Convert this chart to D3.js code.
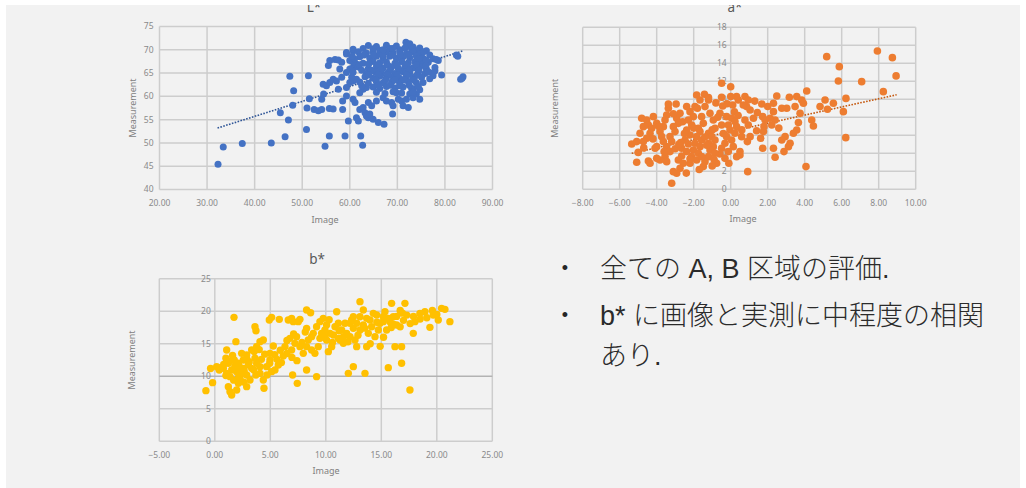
<!DOCTYPE html>
<html>
<head>
<meta charset="utf-8">
<script src="https://cdn.jsdelivr.net/npm/d3@7"></script>
<style>
  html, body { margin: 0; padding: 0; background: #ffffff; }
  svg { display: block; }
</style>
</head>
<body>
<svg id="slide" width="1026" height="488"></svg>
<script>
// ---- L* : image vs measurement ----
const lTicksX = [20, 30, 40, 50, 60, 70, 80, 90];
const lTicksY = [40, 45, 50, 55, 60, 65, 70, 75];
const lTrend = [[32.2, 53.2], [83.9, 69.8]];
const lPoints = [
  [32.3,45.4],[33.4,49.1],[37.4,49.9],[43.5,50.0],[45.4,56.5],[46.4,51.3],[47.1,54.9],[47.4,64.3],[48.0,58.1],[48.2,61.2],
  [50.9,52.9],[51.3,64.4],[51.5,59.5],[51.0,57.5],[52.5,57.2],[53.4,56.9],[54.1,57.2],[54.8,49.3],[55.7,51.5],[55.7,57.4],
  [56.5,57.3],[54.1,59.4],[54.5,60.5],[54.4,62.6],[55.1,62.3],[55.8,63.0],[56.5,63.7],[57.2,63.3],[55.5,66.6],[55.8,67.7],
  [56.9,67.9],[57.6,67.8],[58.3,67.3],[57.9,65.9],[58.3,64.1],[57.6,61.5],[58.5,59.0],[58.5,57.2],[59.0,51.5],[59.7,54.7],
  [59.3,60.1],[59.3,61.9],[60.0,63.0],[60.7,63.3],[60.4,64.1],[61.4,63.7],[59.3,69.1],[60.0,67.7],[60.7,69.8],[60.7,66.2],
  [61.4,66.9],[60.0,65.9],[59.3,65.1],[60.7,59.4],[61.1,58.7],[61.4,55.4],[61.8,54.7],[62.3,51.5],[62.7,49.5],[62.1,57.2],
  [62.8,57.6],[63.2,56.5],[63.5,55.8],[63.9,55.4],[64.2,56.2],[62.8,61.5],[63.5,61.9],[62.5,62.3],[62.1,60.8],[63.9,58.7],
  [64.6,58.0],[64.9,55.1],[66.0,54.4],[67.2,54.0],[65.6,59.0],[67.0,59.7],[67.7,59.0],[68.8,58.7],[69.1,58.0],[69.0,56.2],
  [70.2,59.4],[70.9,59.0],[69.8,60.8],[71.2,58.0],[72.3,57.6],[71.9,59.4],[72.6,60.5],[73.3,59.7],[74.0,60.5],[74.7,59.4],
  [73.3,61.6],[74.7,61.4],[82.4,68.9],[82.7,68.6],[83.3,63.7],[83.8,64.2],[83.6,63.9],[79.3,64.6],[77.9,65.5],[78.6,67.7],
  [77.5,64.4],[71.8,71.6],[72.6,71.3],
  [63.9,70.9],[65.6,70.7],[67.7,71.0],[69.8,70.8],[72.3,70.9],[73.3,70.6],[74.7,70.4],
  [60.7,70.1],[62.8,70.3],[64.9,70.2],[66.3,69.9],[68.4,70.3],[70.5,70.0],[71.6,70.4],[73.0,70.1],[74.4,69.9],[76.1,69.8],
  [59.3,69.4],[61.8,69.6],[63.5,69.3],[64.9,69.6],[66.3,69.2],[67.7,69.5],[69.1,69.3],[70.5,69.6],[71.9,69.2],[73.3,69.5],
  [74.7,69.1],[76.8,68.9],
  [62.1,68.5],[64.2,68.2],[65.6,68.6],[67.0,68.3],[68.4,68.6],[69.8,68.2],[71.2,68.5],[72.6,68.3],[74.0,68.6],[75.4,68.2],[77.5,68.1],
  [60.7,67.4],[62.8,67.1],[64.9,67.5],[66.3,67.2],[67.7,67.4],[69.5,67.1],[70.9,67.5],[72.3,67.2],[73.7,67.4],[75.1,67.0],
  [76.5,67.3],[78.2,67.9],
  [61.8,66.3],[63.9,66.0],[65.6,66.4],[67.0,66.1],[68.8,66.3],[70.2,66.0],[71.6,66.4],[73.3,66.1],[74.7,66.3],[76.1,65.9],[77.9,66.2],
  [60.7,65.2],[63.5,64.9],[65.3,65.3],[66.7,65.0],[68.1,65.2],[69.5,64.9],[71.2,65.3],[72.6,65.0],[74.4,65.2],[75.8,64.9],[77.5,65.0],
  [63.2,64.2],[64.9,63.9],[66.3,64.3],[67.7,64.0],[69.1,64.2],[70.5,63.9],[71.9,64.3],[73.3,64.0],[75.1,64.1],[76.8,63.8],
  [62.1,63.1],[63.9,62.8],[65.6,63.2],[67.0,62.9],[68.8,63.1],[70.5,62.8],[72.3,63.2],[74.0,62.9],[75.4,63.0],
  [64.9,62.0],[66.3,61.7],[67.7,62.1],[69.5,61.8],[71.2,62.0],[73.0,61.7],[74.4,62.1],
  [65.6,60.9],[67.4,60.6],[69.1,61.0],[70.9,60.7],[73.3,60.9],
  [61.0,68.0],[63.0,68.9],[65.0,68.9],[66.9,68.9],[68.8,68.9],[70.6,68.9],[72.4,68.9],[74.5,68.0],[76.0,67.8],[62.0,66.8],
  [64.0,67.0],[66.0,66.8],[68.0,66.7],[70.0,66.8],[72.0,66.7],[74.0,66.8],[76.0,66.6],[62.5,65.6],[64.5,65.6],[66.5,65.7],
  [68.5,65.6],[70.5,65.6],[72.5,65.6],[74.5,65.6],[76.5,65.3],[64.0,64.6],[66.0,64.7],[68.0,64.6],[70.0,64.6],[72.0,64.6],
  [74.0,64.5],[65.5,63.5],[67.5,63.5],[69.5,63.5],[71.5,63.5],[73.5,63.5],[66.0,62.4],[68.5,62.4],[70.5,62.3],[72.5,62.4],
  [69.0,70.3],[67.0,70.0],[75.5,69.6],[60.5,68.6]
];

// ---- a* : image vs measurement ----
const aTicksX = [-8, -6, -4, -2, 0, 2, 4, 6, 8, 10];
const aTicksY = [0, 2, 4, 6, 8, 10, 12, 14, 16, 18];
const aTrend = [[-5.35, 4.0], [8.97, 10.5]];
const aPoints = [
  [5.19,14.74],[5.87,13.63],[5.82,12.04],[7.93,15.37],[8.74,14.63],[8.94,12.6],[7.08,11.96],[8.25,10.85],[6.23,10.1],[6.09,8.63],
  [6.22,5.74],[4.11,10.93],[5.1,9.93],[5.23,8.89],[4.83,9.19],[5.55,9.56],[4.38,7.7],[4.47,7.04],[4.07,2.52],[3.66,7.41],
  [3.75,8.44],[3.57,10.3],[3.84,9.93],[3.93,9.56],[3.48,9.19],[3.57,6.59],[3.39,6.22],[3.17,10.22],[3.03,9.0],[2.76,9.0],
  [3.21,5.11],[3.12,4.74],[2.88,4.19],[2.94,5.85],[2.76,5.48],[2.49,10.37],[2.31,9.56],[2.31,8.63],[2.4,7.7],[2.22,7.15],
  [2.31,4.56],[2.4,3.56],[1.68,9.48],[1.73,8.07],[1.8,6.96],[1.77,6.41],[1.62,5.67],[1.73,4.56],[2.13,7.89],[1.86,7.7],
  [1.44,8.52],[1.23,7.89],[1.05,8.81],[0.86,9.19],[0.77,10.3],[0.95,9.93],[0.68,9.37],[0.41,9.93],[0.32,10.3],[0.11,9.37],
  [0.77,7.7],[0.95,7.15],[1.05,5.85],[0.9,5.3],[0.59,5.85],[0.5,4.19],[0.5,3.81],[0.92,1.96],
  [0.0,11.4],[-0.49,11.78],[-0.49,10.22],[-0.43,9.26],[-0.58,8.44],[-0.22,8.07],[0.05,7.89],[0.23,7.52],[-0.13,7.15],[0.32,6.96],
  [-0.04,6.59],[0.23,6.22],[-0.22,5.85],[0.05,5.48],[-0.31,5.11],[0.14,4.74],[-0.49,4.56],[-0.13,4.19],[-0.58,3.93],[0.32,3.63],
  [-0.31,3.44],[-0.76,2.89],[-0.49,7.15],[-0.94,7.7],[-0.85,6.78],[-1.2,6.22],[-1.03,5.85],[-0.85,5.48],[-1.2,5.11],[-0.94,4.74],
  [-1.12,4.37],[-0.85,4.0],[-1.2,3.63],[-1.39,3.07],[-1.48,2.52],[-1.12,8.44],[-1.39,9.19],[-1.2,9.93],
  [-1.57,8.07],[-1.48,7.33],[-1.75,6.78],[-1.66,6.41],[-1.84,5.85],[-1.57,5.48],[-1.93,5.11],[-1.66,4.74],[-2.02,4.37],[-1.75,4.0],
  [-2.11,3.63],[-1.84,3.26],[-1.57,3.63],[-2.2,2.89],[-1.42,10.56],[-1.66,9.93],[-1.93,9.19],[-2.2,8.63],[-2.02,8.07],[-2.29,7.7],
  [-2.11,7.15],[-2.38,6.59],[-2.2,6.04],[-2.47,5.48],[-2.29,5.04],[-2.65,4.56],[-2.38,4.19],[-2.65,3.7],[-2.83,3.26],[-2.56,2.89],
  [-2.74,2.33],[-2.92,1.78],[-3.1,1.96],[-2.38,9.19],[-2.74,8.44],[-2.92,7.89],[-2.83,7.33],[-3.1,6.96],[-3.01,6.41],[-3.28,5.85],
  [-3.19,5.3],[-3.46,4.74],[-3.28,4.19],[-3.55,3.63],[-3.46,3.07],[-3.19,0.67],[-3.37,9.0],[-3.46,8.26],[-3.55,7.7],[-3.64,6.96],
  [-3.82,6.41],[-3.73,5.85],[-3.64,5.3],[-4.0,4.74],[-3.37,9.48],[-3.82,3.26],[-4.0,3.44],[-4.45,3.15],[-4.36,2.89],[-5.08,3.0],
  [-5.35,5.04],[-5.08,5.3],[-4.9,6.22],[-4.72,6.96],[-4.81,7.89],[-4.54,7.7],[-4.45,7.15],[-4.27,6.78],[-4.36,6.22],[-4.09,4.56],
  [-4.54,5.67],[-4.72,5.3],[-4.18,8.07],[-4.0,7.33],[-2.95,9.48],[-1.84,10.48],[-1.2,10.2],
  [-3.0,4.5],[-2.7,5.2],[-2.5,6.2],[-2.0,6.8],[-1.4,5.8],[-1.0,6.6],[-0.7,8.0],[-0.2,9.5],[0.2,8.6],[-1.8,9.0],
  [-2.6,7.5],[-3.1,8.4],[-2.2,3.4],[-1.0,2.6],[-0.4,6.2],[0.6,6.6],[0.4,8.2],[-1.3,4.9],[-2.8,5.0],[-3.6,4.2],
  [-4.2,5.6],[-4.7,4.6],[-5.0,4.1],[-3.9,7.0],[-1.7,2.2],[-2.4,1.8],[1.4,6.5],[1.3,9.8],[2.0,9.2],[2.6,6.8],
  [0.0,10.3],[-0.8,9.6],[-0.1,2.9],[-0.9,3.3]
];

// ---- b* : image vs measurement ----
const bTicksX = [-5, 0, 5, 10, 15, 20, 25];
const bTicksY = [0, 5, 10, 15, 20, 25];
const bPoints = [
  [-0.8,7.79],[-0.2,9.02],[-0.38,11.2],[0.17,11.48],[0.4,10.96],[1.73,19.06],[1.9,15.32],[1.07,14.04],[1.0,12.76],[1.22,11.99],
  [0.77,11.22],[1.07,10.45],[1.52,10.96],[1.81,11.58],[1.37,9.94],[1.22,8.4],[1.37,7.63],[1.52,7.12],[1.97,7.89],[2.12,8.91],
  [2.27,9.68],[2.42,10.45],[1.97,10.71],[2.57,11.22],[2.12,11.99],[2.57,12.5],[2.42,13.52],[2.87,13.27],[3.32,14.04],[3.02,11.73],
  [3.32,11.22],[2.87,10.2],[3.17,9.43],[2.87,8.4],[3.62,12.76],[3.77,11.99],[4.07,11.48],[3.62,17.62],[3.71,17.0],[3.77,14.55],
  [4.07,15.32],[4.37,15.57],[4.07,10.45],[4.37,9.43],[4.43,8.15],[4.67,11.48],[4.97,12.5],[5.12,10.71],[5.27,14.65],[4.97,13.52],
  [4.91,18.65],[5.12,19.06],[5.42,10.96],[5.72,11.73],[5.81,18.75],[6.17,13.11],[6.32,14.55],[6.77,15.83],[6.62,18.65],[6.92,18.9],
  [7.07,18.4],[7.52,18.4],[7.67,18.75],[7.01,10.2],[7.43,8.91],[6.92,14.04],[7.22,15.06],[7.37,16.09],[7.67,14.55],[7.97,13.52],
  [8.27,14.55],[8.27,10.96],[8.27,20.18],[8.63,19.77],[8.42,15.57],[8.72,14.04],[8.87,16.6],[9.02,13.52],[9.17,9.94],[9.32,14.55],
  [9.47,15.83],[9.47,18.4],[9.77,18.9],[9.92,17.11],[10.07,15.57],[10.23,13.78],[10.53,14.55],[10.68,16.34],[10.98,19.93],[11.13,18.14],
  [11.28,15.57],[11.58,15.06],[11.88,16.6],[12.18,18.14],[12.33,18.65],[12.48,17.37],[12.03,10.45],[12.48,11.48],[12.63,15.57],[12.78,14.55],
  [13.08,19.16],[13.08,21.47],[13.38,20.18],[13.53,10.45],[13.68,14.55],[13.83,16.6],[13.98,18.65],[14.28,19.67],[14.43,16.09],[14.88,18.14],
  [15.18,19.16],[15.48,17.11],[15.63,11.32],[15.78,18.4],[15.93,21.21],[16.08,19.16],[16.23,14.55],[16.38,17.88],[16.83,11.99],[16.83,14.55],
  [17.13,21.21],[17.58,7.89],[17.88,16.6],[18.03,18.4],[18.48,19.67],[18.93,19.93],[19.38,17.52],[19.68,19.42],[20.13,18.65],[20.43,20.44],
  [20.73,20.29],[21.18,18.4],
  [8.27,17.37],[8.72,16.09],[9.17,17.62],[9.62,16.6],[10.07,17.88],[10.38,16.6],[10.83,17.62],[11.13,15.83],[11.43,17.11],[11.73,18.14],
  [12.18,16.09],[12.48,19.16],[12.78,18.14],[13.08,17.11],[13.38,17.88],[13.68,18.9],[14.13,17.62],[14.58,19.42],[14.73,17.11],[15.18,18.4],
  [15.33,19.93],[15.63,18.9],[16.08,18.0],[16.38,19.2],[16.7,17.6],[17.0,18.6],[17.3,19.4],[17.6,18.1],[16.7,20.1],[16.9,19.7],
  [0.35,11.3],[0.8,11.8],[1.3,12.3],[1.75,12.5],[2.2,11.5],[2.65,10.8],[3.1,12.2],[1.7,9.4],[2.15,9.9],[2.6,9.1],
  [3.55,13.8],[4.0,14.1],[4.5,13.4],[4.95,12.0],[3.7,10.2],[4.7,10.2],[5.6,12.6],[5.9,14.0],[6.5,13.5],[6.95,12.9],
  [7.4,12.4],[6.5,15.5],[7.1,16.5],[7.85,15.2],[8.15,16.8],[14.0,15.0],[15.2,16.0],[14.9,14.6],[18.5,18.8],[19.1,19.0],
  [9.9,16.2],[10.6,15.2],[11.6,16.1],[12.9,16.3],[13.5,17.4],[14.6,18.3],[15.9,17.5],[10.3,18.7],[11.2,17.0],[12.0,15.3],
  [17.9,19.2],[19.6,20.1],[20.0,19.5],[1.6,13.2],[2.9,12.6],[3.5,11.0],[4.2,12.6],[5.4,13.3],[6.0,12.1],[1.0,10.1]
];

// ---- bullet text ----
const bullets = [
  ["全ての A, B 区域の評価."],
  ["b* に画像と実測に中程度の相関", "あり."]
];

const svg = d3.select("#slide");
const tickFont = "'Noto Sans', 'Liberation Sans', sans-serif";

// slide panel
svg.append("rect").attr("x", 6).attr("y", 5).attr("width", 1014).attr("height", 483).attr("fill", "#f2f2f2");

function scatter(o) {
  const g = svg.append("g");
  const x = d3.scaleLinear().domain(o.xDomain).range([o.left, o.right]);
  const y = d3.scaleLinear().domain(o.yDomain).range([o.bottom, o.top]);

  // gridlines
  g.append("g").selectAll("line").data(o.ticksX).join("line")
    .attr("x1", d => x(d)).attr("x2", d => x(d))
    .attr("y1", o.top).attr("y2", o.bottom)
    .attr("stroke", "#cdcdcd").attr("stroke-width", 1.5);
  g.append("g").selectAll("line").data(o.ticksY).join("line")
    .attr("y1", d => y(d)).attr("y2", d => y(d))
    .attr("x1", o.left).attr("x2", o.right)
    .attr("stroke", d => (o.darkY === d ? "#b3b3b3" : "#cdcdcd")).attr("stroke-width", 1.5);

  // tick labels
  const ylx = o.yAxisAt == null ? o.left - 6 : x(o.yAxisAt) - 4;
  g.append("g").selectAll("text").data(o.ticksY).join("text")
    .attr("x", ylx).attr("y", d => y(d)).attr("dy", "0.35em")
    .attr("text-anchor", "end").attr("font-family", tickFont).attr("font-size", 8.5)
    .attr("fill", "#8a8a8a").text(d => d3.format("d")(d));
  g.append("g").selectAll("text").data(o.ticksX).join("text")
    .attr("x", d => x(d)).attr("y", o.bottom + 13.5).attr("dy", "0.35em")
    .attr("text-anchor", "middle").attr("font-family", tickFont).attr("font-size", 8.5)
    .attr("fill", "#8a8a8a").text(d => d3.format(".2f")(d));

  // trend line
  if (o.trend) {
    g.append("path").datum(o.trend)
      .attr("d", d3.line().x(d => x(d[0])).y(d => y(d[1])))
      .attr("fill", "none").attr("stroke", o.trendColor).attr("stroke-width", 1.6)
      .attr("stroke-dasharray", "1.6,1.4");
  }

  // points
  g.append("g").selectAll("circle").data(o.points).join("circle")
    .attr("cx", d => x(d[0])).attr("cy", d => y(d[1])).attr("r", o.r)
    .attr("fill", o.color);

  // axis titles
  g.append("text").attr("transform", `translate(${o.measX},${(o.top + o.bottom) / 2}) rotate(-90)`)
    .attr("dy", "0.35em").attr("text-anchor", "middle").attr("font-family", tickFont)
    .attr("font-size", 9).attr("fill", "#7f7f7f").text("Measurement");
  g.append("text").attr("x", o.imageX).attr("y", o.bottom + 30).attr("dy", "0.35em")
    .attr("text-anchor", "middle").attr("font-family", tickFont)
    .attr("font-size", 9).attr("fill", "#7f7f7f").text("Image");
  g.append("text").attr("x", o.titleX).attr("y", o.titleY)
    .attr("text-anchor", "middle").attr("font-family", tickFont)
    .attr("font-size", 13.5).attr("fill", "#595959").text(o.title);
}

scatter({
  points: lPoints, ticksX: lTicksX, ticksY: lTicksY, trend: lTrend,
  xDomain: [20, 90], yDomain: [40, 75],
  left: 159.5, right: 492.5, top: 26.5, bottom: 189.5,
  color: "#4472c4", trendColor: "#2f5597", r: 3.5,
  title: "L*", titleX: 314, titleY: 12, measX: 133, imageX: 325
});

scatter({
  points: aPoints, ticksX: aTicksX, ticksY: aTicksY, trend: aTrend,
  xDomain: [-8, 10], yDomain: [0, 18], yAxisAt: 0,
  left: 582.7, right: 915.7, top: 27.3, bottom: 189.3,
  color: "#ed7d31", trendColor: "#c55a11", r: 3.8,
  title: "a*", titleX: 735, titleY: 12, measX: 555, imageX: 743
});

scatter({
  points: bPoints, ticksX: bTicksX, ticksY: bTicksY, darkY: 10,
  xDomain: [-5, 25], yDomain: [0, 25], yAxisAt: 0,
  left: 159.3, right: 492.3, top: 278.7, bottom: 441.3,
  color: "#ffc000", r: 3.7,
  title: "b*", titleX: 317, titleY: 264, measX: 132, imageX: 326
});

// bullet list
const textFont = "'Liberation Sans', 'Noto Sans CJK JP', sans-serif";
const lineY = [[268], [315, 355]];
bullets.forEach((lines, i) => {
  svg.append("text").attr("x", 565).attr("y", lineY[i][0]).attr("dy", "0.35em")
    .attr("text-anchor", "middle").attr("font-family", textFont).attr("font-size", 18)
    .attr("fill", "#262626").text("•");
  lines.forEach((t, j) => {
    svg.append("text").attr("x", 600).attr("y", lineY[i][j]).attr("dy", "0.36em")
      .attr("font-family", textFont).attr("font-size", 27).attr("font-weight", 300)
      .attr("fill", "#2b2b2b").text(t);
  });
});

// white margins round the slide
svg.append("rect").attr("x", 0).attr("y", 0).attr("width", 1026).attr("height", 5).attr("fill", "#ffffff");
svg.append("rect").attr("x", 0).attr("y", 0).attr("width", 6).attr("height", 488).attr("fill", "#ffffff");
svg.append("rect").attr("x", 1020).attr("y", 0).attr("width", 6).attr("height", 488).attr("fill", "#ffffff");
</script>
</body>
</html>
